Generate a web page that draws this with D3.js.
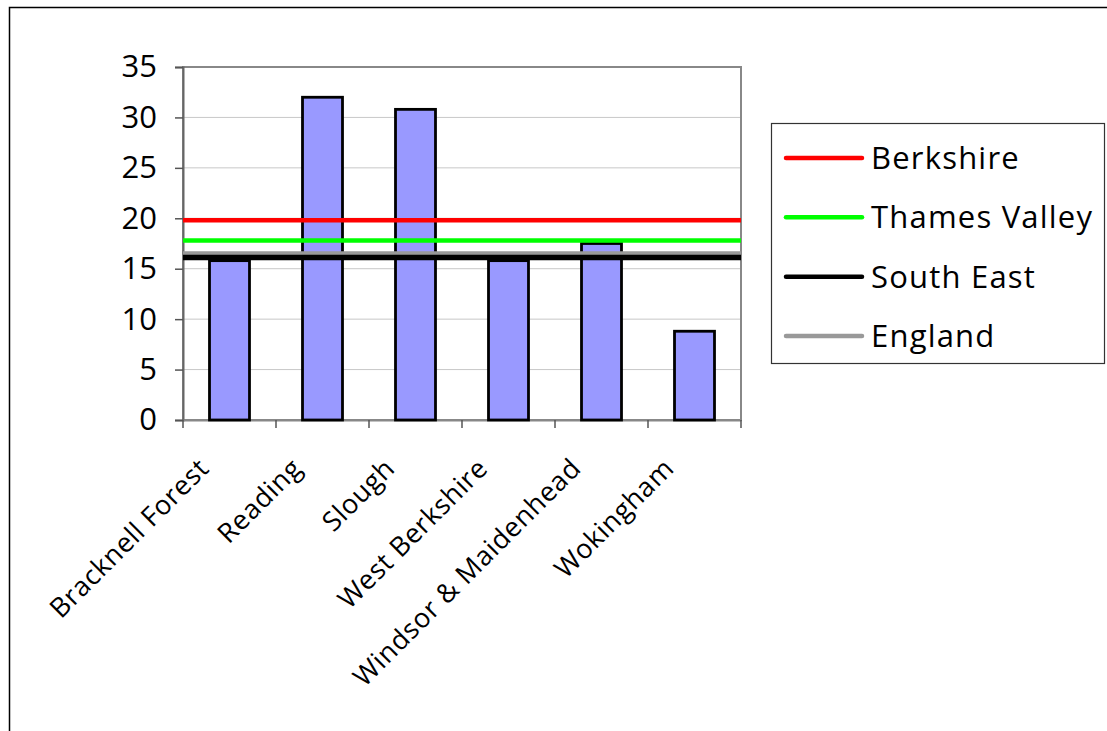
<!DOCTYPE html>
<html>
<head>
<meta charset="utf-8">
<script src="https://cdn.jsdelivr.net/npm/d3@7/dist/d3.min.js"></script>
<style>
  html, body { margin: 0; padding: 0; background: #fff; overflow: hidden; }
  svg { display: block; font-family: "Open Sans", sans-serif; }
</style>
</head>
<body>
<svg id="chart" width="1107" height="731"></svg>
<script>
// ---- data ----
const categories = ["Bracknell Forest", "Reading", "Slough", "West Berkshire", "Windsor & Maidenhead", "Wokingham"];
const barValues = [15.8, 32.0, 30.8, 15.8, 17.5, 8.8];
const refNames = ["Berkshire", "Thames Valley", "South East", "England"];
const refValues = [19.8, 17.8, 16.1, 16.5];
const refColors = ["#ff0000", "#00ff00", "#000000", "#999999"];
const yTicks = [0, 5, 10, 15, 20, 25, 30, 35];

// ---- layout ----
const svg = d3.select("#chart");
const plot = { left: 183, top: 67, right: 741, bottom: 420 };

// outer frame (cropped on right/bottom)
svg.append("rect").attr("x", 9.5).attr("y", 7.5).attr("width", 1300).attr("height", 900)
  .attr("fill", "none").attr("stroke", "#000").attr("stroke-width", 1.5);

const x = d3.scaleBand().domain(categories).range([plot.left, plot.right]).paddingInner(0.57).paddingOuter(0.285);
const xOuter = d3.scaleBand().domain(categories).range([plot.left, plot.right]);
const y = d3.scaleLinear().domain([0, 35]).range([plot.bottom, plot.top]);

// gridlines
svg.append("g").selectAll("line").data(yTicks.filter(d => d > 0 && d < 35)).join("line")
  .attr("x1", plot.left).attr("x2", plot.right)
  .attr("y1", d => y(d)).attr("y2", d => y(d))
  .attr("stroke", "#c8c8c8").attr("stroke-width", 1);

// plot border
svg.append("rect").attr("x", plot.left).attr("y", plot.top)
  .attr("width", plot.right - plot.left).attr("height", plot.bottom - plot.top)
  .attr("fill", "none").attr("stroke", "#888").attr("stroke-width", 2);

// y axis
const yAxis = svg.append("g").attr("transform", `translate(${plot.left},0)`)
  .call(d3.axisLeft(y).tickValues(yTicks).tickSize(8).tickPadding(18));
yAxis.select(".domain").attr("stroke", "#666").attr("stroke-width", 2);
yAxis.selectAll(".tick line").attr("stroke", "#555").attr("stroke-width", 1.5);
yAxis.selectAll(".tick text").attr("font-size", 31).attr("fill", "#000")
  .attr("font-family", "'Open Sans', sans-serif");

// x axis
const xAxis = svg.append("g").attr("transform", `translate(0,${plot.bottom})`)
  .call(d3.axisBottom(xOuter).tickSize(0).tickFormat(""));
xAxis.select(".domain").attr("stroke", "#888").attr("stroke-width", 2);
const boundaries = categories.map(c => xOuter(c)).concat([plot.right]);
svg.append("g").selectAll("line").data(boundaries).join("line")
  .attr("x1", d => d).attr("x2", d => d)
  .attr("y1", plot.bottom).attr("y2", plot.bottom + 8)
  .attr("stroke", "#555").attr("stroke-width", 1.5);

// x labels rotated
svg.append("g").selectAll("text").data(categories).join("text")
  .attr("transform", d => `translate(${xOuter(d) + xOuter.bandwidth() / 2 - 19},${plot.bottom + 50}) rotate(-45)`)
  .attr("text-anchor", "end")
  .attr("font-size", 27)
  .attr("letter-spacing", 0.6)
  .attr("fill", "#000")
  .text(d => d);

// bars
svg.append("g").selectAll("rect").data(barValues).join("rect")
  .attr("x", (d, i) => x(categories[i]))
  .attr("width", x.bandwidth())
  .attr("y", d => y(d))
  .attr("height", d => y(0) - y(d))
  .attr("fill", "#9999ff").attr("stroke", "#000").attr("stroke-width", 2.8);

// reference lines (draw England, then South East, Thames Valley, Berkshire)
const order = [3, 2, 1, 0];
const lineGen = d3.line().x(d => d[0]).y(d => d[1]);
svg.append("g").selectAll("path").data(order).join("path")
  .attr("d", i => lineGen([[plot.left, y(refValues[i])], [plot.right, y(refValues[i])]]))
  .attr("stroke", i => refColors[i])
  .attr("stroke-width", i => i === 2 ? 5.5 : 4.5)
  .attr("fill", "none");

// legend
const legend = svg.append("g");
legend.append("rect").attr("x", 771.5).attr("y", 123.5).attr("width", 333).attr("height", 240)
  .attr("fill", "#fff").attr("stroke", "#333").attr("stroke-width", 1.2);
const legY = d3.scalePoint().domain(refNames).range([158, 336]);
refNames.forEach((name, i) => {
  legend.append("line").attr("x1", 786).attr("x2", 862)
    .attr("y1", legY(name)).attr("y2", legY(name))
    .attr("stroke", refColors[i]).attr("stroke-width", 4.5).attr("stroke-linecap", "round");
  legend.append("text").attr("x", 871).attr("y", legY(name)).attr("dy", "0.36em")
    .attr("font-size", 31).attr("letter-spacing", 1.2).attr("fill", "#000").text(name);
});
</script>
</body>
</html>
